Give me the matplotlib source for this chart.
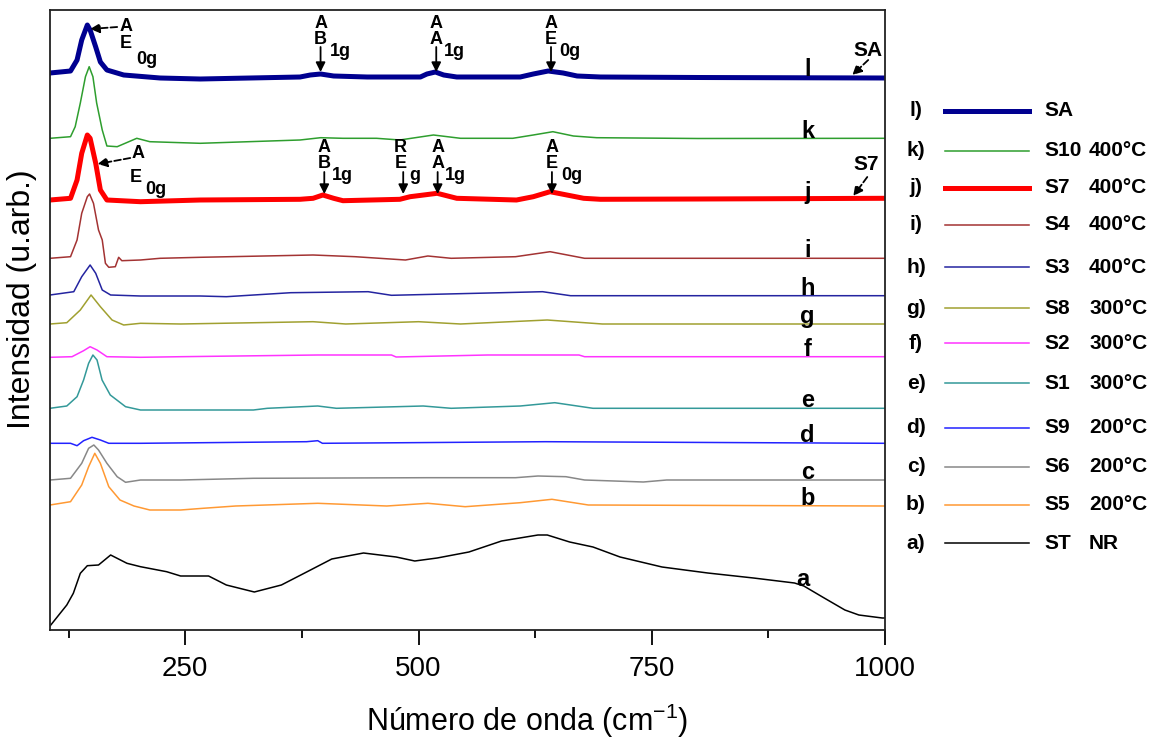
import matplotlib.pyplot as plt

plt.rcParams['font.family'] = ['Liberation Sans', 'DejaVu Sans']
plt.rcParams['mathtext.default'] = 'regular'

# Raman spectra, wavenumber (cm-1) and intensity above each curve's own baseline (u.arb.)
sa_x = [105, 127, 134, 139, 145, 148, 154, 159, 166, 184, 223, 266, 373, 384, 395, 409, 445, 502, 509, 518, 527, 541, 609, 623, 639, 655, 670, 695, 800, 1000]
sa_y = [4, 6, 17, 37, 52, 47, 30, 15, 7, 2, -1, -2, 0, 2, 3, 1, 0, 0, 3, 5, 2, 0, 0, 3, 6, 4, 1, 0, -0.5, -1]

s10_x = [105, 127, 132, 137.5, 143, 147, 151, 155, 161, 166, 177, 198, 212, 266, 373, 395, 419, 455, 480, 516, 545, 601, 623, 644, 666, 691, 800, 1000]
s10_y = [0.7, 2.3, 12.3, 36, 62.3, 72.3, 62.3, 36, 9, -7, -7.7, 0.7, -2.7, -4.3, -1, 1.3, 0.7, 0.7, -1, 4, 0.7, 0.7, 4, 7.3, 3, 1.3, 0.5, 0.7]

s7_x = [105, 127, 134, 139, 145, 148, 154, 159, 166, 202, 266, 373, 387, 397.5, 409, 419, 480, 491, 520, 541, 605, 623, 641, 659, 677, 695, 800, 1000]
s7_y = [0, 1.7, 20, 46.7, 65, 61.7, 36.7, 10, 0, -1.7, 0, 0.7, 1.7, 5, 1.7, -0.7, 0.7, 3.3, 6.7, 1.7, 0, 3.3, 8.3, 5, 1.7, 0.7, 1, 1.7]

s4_x = [105, 127, 134, 139, 145, 147.4, 151.6, 157, 161, 164.4, 168, 175, 178.6, 182, 202, 223, 266, 387, 432, 486, 510, 535, 604, 641, 678, 1000]
s4_y = [-0.3, 1.3, 18, 44.7, 61.3, 64, 54.7, 28, 18, -5.3, -9.3, -8.7, 0.7, -2.7, -2, -0.3, 0.7, 3, 1.3, -2, 2, -0.3, 1.3, 6.3, -0.3, -0.3]

s3_x = [105, 130.5, 139, 148, 154, 161, 170, 202, 266, 294, 363, 446, 471, 589, 633, 663, 1000]
s3_y = [1, 4.3, 19.3, 31, 22.7, 6, 1, 0, 0, -0.7, 3.3, 4.3, 0.7, 3.3, 4.3, 0.3, 0.3]

s8_x = [105, 123, 137.5, 149, 159, 171.5, 184, 202, 245, 387, 422, 500, 545, 638, 697, 1000]
s8_y = [0, 1.3, 14, 29, 17.3, 4, -1, 0.7, 0, 2.3, 0, 2.3, 0, 4, 0, 0]

s2_x = [105, 128.6, 141, 148, 155.4, 166, 202, 245, 392, 471, 476, 574, 672, 678, 1000]
s2_y = [-0.3, 0.3, 6.3, 10.3, 7, 0.3, -0.3, 0.3, 2, 2, 0, 2, 2, 0.3, 0.3]

s1_x = [105, 123, 134, 141, 146.4, 151, 155.4, 160.8, 169.6, 186, 202, 245, 323, 338, 392, 412, 505, 535, 609, 646, 687, 1000]
s1_y = [-0.3, 2, 11.3, 28, 44.7, 53, 48, 28, 13, 1.3, -2, -2, -2, -0.3, 2, -0.3, 2, -0.3, 2, 5.3, -0.3, -0.3]

s9_x = [105, 127, 134, 141, 150, 159, 168, 202, 380, 392, 397, 636, 1000]
s9_y = [-0.3, -0.3, -2.7, 2.3, 5.7, 3, -0.3, -0.3, 1.3, 2.3, -0.3, 1.3, -0.3]

s6_x = [105, 127, 139, 146.4, 152, 157, 166, 177, 186, 202, 245, 323, 510, 604, 628, 658, 678, 741, 766, 1000]
s6_y = [0, 1.7, 16.7, 31.7, 35, 30, 16.7, 3.3, -2.3, 0, 0, 1.7, 2.3, 2.3, 4, 3.3, 0, -2, 0, 0]

s5_x = [105, 127, 139, 146.4, 153, 159, 168, 180, 195, 212, 245, 269, 304, 392, 466, 510, 550, 609, 643, 682, 1000]
s5_y = [1, 4.3, 21, 39.3, 52.7, 42.7, 19.3, 6, 0, -4, -4, -2.3, 0, 2.7, 0, 2.7, -0.7, 3.3, 6.7, 1, 0]

st_x = [105, 123, 130, 137.5, 145, 157, 170, 187.5, 202, 230, 245, 275, 294, 324, 353, 378, 407, 441, 476, 496, 520, 554, 589, 628, 638, 662, 687, 716, 761, 810, 859, 903, 913, 933, 957, 972, 997, 1000]
st_y = [4, 25, 36.7, 56.7, 64.3, 65, 75, 66.7, 63.3, 58.3, 54, 54, 45, 38, 45, 57, 71, 77, 73, 69, 72, 78, 89, 95, 95, 88, 83, 73, 63, 57, 52, 47, 44, 33, 20, 15, 12, 12]

letters = ['l', 'k', 'j', 'i', 'h', 'g', 'f', 'e', 'd', 'c', 'b', 'a']
samples = ['SA', 'S10', 'S7', 'S4', 'S3', 'S8', 'S2', 'S1', 'S9', 'S6', 'S5', 'ST']
temps = ['', '400°C', '400°C', '400°C', '400°C', '300°C', '300°C', '300°C', '200°C', '200°C', '200°C', 'NR']
offsets = [553, 491, 430, 372, 334, 306, 273, 222, 187, 150, 124, 0]
xs = [sa_x, s10_x, s7_x, s4_x, s3_x, s8_x, s2_x, s1_x, s9_x, s6_x, s5_x, st_x]
ys = [sa_y, s10_y, s7_y, s4_y, s3_y, s8_y, s2_y, s1_y, s9_y, s6_y, s5_y, st_y]

colors = ['#000090', '#2e9e2e', '#ff0000', '#a33333', '#2424a0', '#a0a030',
          '#ff33ff', '#339999', '#2222ff', '#888888', '#ff9933', '#000000']
widths = [3.6, 1.1, 3.6, 1.1, 1.1, 1.1, 1.1, 1.1, 1.1, 1.1, 1.1, 1.1]

fig = plt.figure(figsize=(11.56, 7.45), dpi=100)
ax = fig.add_axes([50 / 1156, 115 / 745, 835 / 1156, 620 / 745])

for x, y, off, c, lw in zip(xs, ys, offsets, colors, widths):
    ax.plot(x, [v + off for v in y], color=c, lw=lw, solid_joinstyle='round')

# curve letters
for let, off in zip(letters, offsets):
    if let == 'a':
        ax.text(912, 44, let, fontsize=17, fontweight='bold', ha='center', va='baseline')
    else:
        ax.text(917, off + 1, let, fontsize=17, fontweight='bold', ha='center', va='baseline')

fs = 13
arrow = dict(arrowstyle='-|>', color='k', lw=1.3, mutation_scale=14, shrinkA=0, shrinkB=0)
dashed = dict(arrowstyle='-|>', color='k', lw=1.3, ls='--', mutation_scale=14, shrinkA=0, shrinkB=0)

def tx(x, y, s, size=fs):
    ax.text(x, y, s, fontsize=size, fontweight='bold', ha='center', va='center')

# SA modes
tx(186, 603.5, 'A'); tx(186, 586, 'E'); tx(209, 570, '0g')
ax.annotate('', xy=(148, 601), xytext=(177, 603), arrowprops=dashed)
for xm, l1, l2, sub, xs_ in [(395, 'A', 'B', '1g', 416), (519, 'A', 'A', '1g', 538), (642, 'A', 'E', '0g', 662.5)]:
    tx(xm, 607, l1); tx(xm, 591, l2); tx(xs_, 578, sub)
    ax.annotate('', xy=(xm, 558), xytext=(xm, 583), arrowprops=arrow)

# S7 modes
tx(199, 476, 'A'); tx(197.5, 452, 'E'); tx(218, 440, '0g')
ax.annotate('', xy=(156, 466), xytext=(191, 472), arrowprops=dashed)
for xm, l1, l2, sub, xs_ in [(399, 'A', 'B', '1g', 418), (483.6, 'R', 'E', 'g', 496.4),
                             (520.5, 'A', 'A', '1g', 539), (643, 'A', 'E', '0g', 664.6)]:
    tx(xm - (3 if l1 == 'R' else 0), 483, l1); tx(xm - (3 if l1 == 'R' else 0), 466, l2); tx(xs_, 454, sub)
    ax.annotate('', xy=(xm, 436), xytext=(xm, 458), arrowprops=arrow)

ax.text(982, 579, 'SA', fontsize=15, fontweight='bold', ha='center', va='center')
ax.annotate('', xy=(965, 555), xytext=(982, 570), arrowprops=dashed)
ax.text(980, 465, 'S7', fontsize=15, fontweight='bold', ha='center', va='center')
ax.annotate('', xy=(966, 434), xytext=(981, 453), arrowprops=dashed)

ax.set_xlim(105, 1000)
ax.set_ylim(0, 620)
ax.set_xticks([250, 500, 750, 1000])
ax.set_xticks([125, 375, 625, 875], minor=True)
ax.set_yticks([])
ax.tick_params(axis='x', which='major', length=11, width=1.3, labelsize=20, pad=8)
ax.tick_params(axis='x', which='minor', length=6, width=1.3)
for sp in ax.spines.values():
    sp.set_linewidth(1.3)
    sp.set_color('#222222')

ax.set_xlabel('Número de onda (cm$^{-1}$)', fontsize=22)
ax.xaxis.set_label_coords(0.572, -0.115)
ax.set_ylabel('Intensidad (u.arb.)', fontsize=23, va='center')
ax.yaxis.set_label_coords(-0.0335, 0.534)

# legend on the right, drawn in figure pixels
leg = fig.add_axes([0, 0, 1, 1])
leg.set_xlim(0, 1156)
leg.set_ylim(745, 0)
leg.axis('off')
rows = [110.7, 150.7, 187.7, 225, 267.3, 308, 343.3, 383.3, 427.7, 466.7, 505, 543.3]
for r, let, name, t, c, lw in zip(rows, letters, samples, temps, colors, widths):
    leg.text(916, r, let + ')', fontsize=15, fontweight='bold', ha='center', va='center')
    leg.plot([945, 1029], [r, r], color=c, lw=lw)
    leg.text(1044, r, name, fontsize=15, fontweight='bold', ha='left', va='center')
    leg.text(1089, r, t, fontsize=15, fontweight='bold', ha='left', va='center')

fig.savefig('out.png', dpi=100)
